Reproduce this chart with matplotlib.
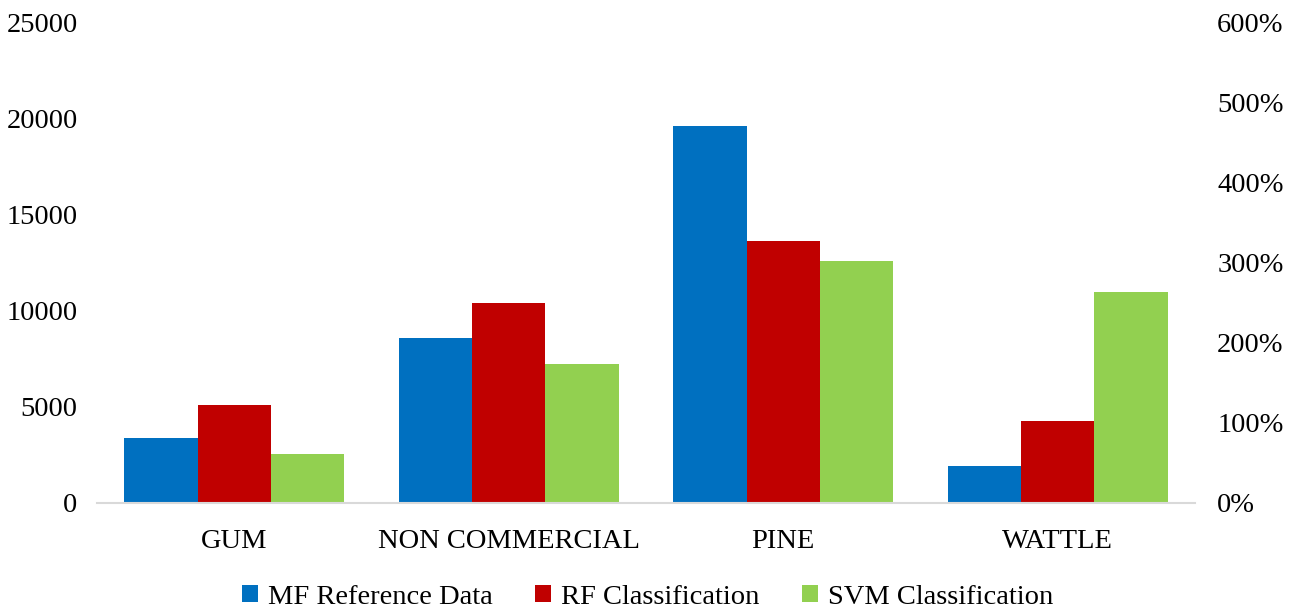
import numpy as np
import matplotlib.pyplot as plt
from matplotlib.ticker import FuncFormatter

plt.rcParams['font.family'] = ['Liberation Serif', 'DejaVu Serif']

categories = ["GUM", "NON COMMERCIAL", "PINE", "WATTLE"]
mf_reference = [3400, 8550, 19600, 1920]
rf_class = [5100, 10400, 13620, 4260]
svm_class = [2550, 7230, 12580, 10970]

series = [("MF Reference Data", mf_reference, "#0070C0"),
          ("RF Classification", rf_class, "#C00000"),
          ("SVM Classification", svm_class, "#92D050")]

fig = plt.figure(figsize=(12.9, 6.11), dpi=100)
ax = fig.add_axes([97/1290, 1 - 503/611, (1195 - 97)/1290, (503 - 22)/611])

x = np.arange(len(categories))
w = 0.8 / 3
for k, (name, vals, col) in enumerate(series):
    ax.bar(x + (k - 1) * w, vals, w, color=col, label=name)

ax.set_xlim(-0.5, len(categories) - 0.5)
ax.set_ylim(0, 25000)
ax.set_yticks(range(0, 25001, 5000))
ax.set_xticks(x)
ax.set_xticklabels(categories)
ax.tick_params(axis='both', length=0, labelsize=20.5)
ax.tick_params(axis='x', pad=19)
ax.tick_params(axis='y', pad=14)
for s in ['top', 'right', 'left']:
    ax.spines[s].set_visible(False)
ax.spines['bottom'].set_color('#D9D9D9')
ax.spines['bottom'].set_linewidth(1.5)

ax2 = ax.twinx()
ax2.set_ylim(0, 6)
ax2.set_yticks(range(0, 7))
ax2.yaxis.set_major_formatter(FuncFormatter(lambda v, p: f"{int(v * 100)}%"))
ax2.tick_params(axis='y', length=0, labelsize=20.5, pad=16)
for s in ax2.spines.values():
    s.set_visible(False)

handles, labels = ax.get_legend_handles_labels()
fig.legend(handles, labels, loc='center', bbox_to_anchor=(0.502, 1 - 597/611),
           ncol=3, frameon=False, fontsize=20.5, handlelength=0.55,
           handleheight=0.55, handletextpad=0.35, columnspacing=1.5,
           borderpad=0)

fig.savefig("out.png", dpi=100)
